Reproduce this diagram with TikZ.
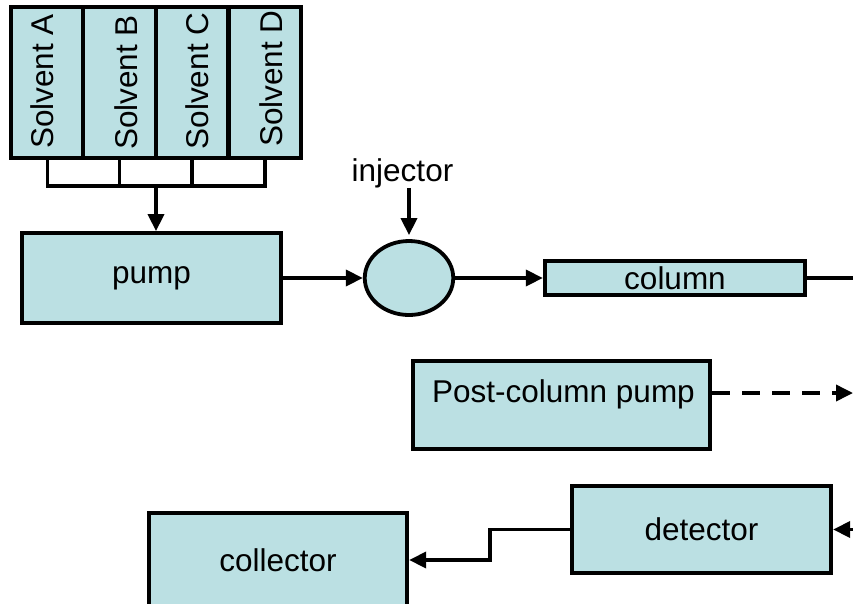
\documentclass[tikz,border=0pt]{standalone}
\usepackage{fontspec}
\setmainfont{Liberation Sans}
\usetikzlibrary{arrows.meta,shapes.geometric}
\definecolor{boxfill}{RGB}{187,224,227}
\begin{document}
\begin{tikzpicture}[x=1pt,y=-1pt,
  box/.style={draw=black,fill=boxfill,line width=3.8pt,inner sep=0pt,rectangle},
  lbl/.style={font=\fontsize{31.5}{36}\selectfont,inner sep=0pt},
  conn/.style={line width=3.6pt,draw=black},
  arr/.style={conn,-{Triangle[length=17pt,width=16pt]}}
]
\useasboundingbox (0,0) rectangle (853,603);
\clip (0,0) rectangle (853,603);

% solvent reservoirs
\node[box,minimum width=72.5pt,minimum height=151.5pt] (sA) at (47.5,82.5) {};
\node[box,minimum width=72.5pt,minimum height=151.5pt] (sB) at (119.5,82.5) {};
\node[box,minimum width=72.5pt,minimum height=151.5pt] (sC) at (192,82.5) {};
\node[box,minimum width=72.5pt,minimum height=151.5pt] (sD) at (265,82.5) {};
\node[lbl,rotate=90,anchor=base] (tA) at (53,81.5) {Solvent A};
\node[lbl,rotate=90,anchor=base] (tB) at (137,82.5) {Solvent B};
\node[lbl,rotate=90,anchor=base] (tC) at (208,81) {Solvent C};
\node[lbl,rotate=90,anchor=base] (tD) at (282,78.5) {Solvent D};

% main flow path
\node[box,lbl,minimum width=259.5pt,minimum height=90pt] (pump) at (151.5,278) {pump};
\node[box,ellipse,minimum width=88.5pt,minimum height=74pt] (valve) at (409,278) {};
\node[lbl] (inj) at (402.5,173) {injector};
\node[box,lbl,minimum width=260.5pt,minimum height=34.5pt] (col) at (675,278) {column};

\node[box,minimum width=297.5pt,minimum height=88.5pt] (pcp) at (561.5,405) {};
\node[lbl] (pcptext) at (563.5,394) {Post-column pump};

\node[box,lbl,minimum width=259.5pt,minimum height=87.5pt] (det) at (701.5,529.5) {detector};
\node[box,lbl,minimum width=258.5pt,minimum height=94pt] (coll) at (278,560) {collector};

% solvent manifold
\coordinate (mix) at (156,186);
\draw[conn,line join=miter] (sA.south) |- (mix) -| (sD.south);
\draw[conn] (sB.south) -- (sB.south |- mix);
\draw[conn] (sC.south) -- (sC.south |- mix);
\draw[arr] (mix) -- (mix |- pump.north);

% connectors
\draw[arr] (pump.east) -- (valve.west);
\draw[arr,shorten >=4pt] (valve.north |- inj.south) -- (valve.north);
\draw[arr] (valve.east) -- (col.west);
\coordinate (colout) at (853,278);
\draw[conn] (col.east) -- (colout);

\coordinate (pcpout) at (853,393);
\draw[arr,dash pattern=on 18pt off 12pt] (pcp.east |- pcpout) -- (pcpout);

\coordinate (detin) at (853,529.5);
\draw[arr] (detin) -- (det.east);
\draw[arr,line join=miter] (det.west) -- ++(-80,0) |- (coll.east);
\end{tikzpicture}
\end{document}
